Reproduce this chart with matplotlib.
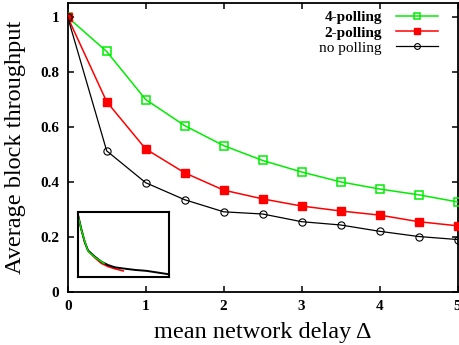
import matplotlib
matplotlib.use('Agg')
import matplotlib.pyplot as plt

# main curves
delay = [0, 0.5, 1, 1.5, 2, 2.5, 3, 3.5, 4, 4.5, 5]
poll4 = [1.0, 0.875, 0.70, 0.605, 0.532, 0.478, 0.436, 0.400, 0.374, 0.353, 0.327]
poll2 = [1.0, 0.692, 0.520, 0.433, 0.370, 0.338, 0.312, 0.294, 0.279, 0.255, 0.240]
nopoll = [1.0, 0.513, 0.397, 0.335, 0.291, 0.283, 0.255, 0.243, 0.220, 0.201, 0.190]

# inset curves (inset has no tick labels, unit coordinates)
ins_x_black = [0.0, 0.04, 0.077, 0.113, 0.187, 0.26, 0.333, 0.407, 0.48, 0.626, 0.755, 1.0]
ins_y_black = [1.0, 0.756, 0.557, 0.424, 0.328, 0.247, 0.195, 0.160, 0.145, 0.119, 0.104, 0.05]
ins_x_red = [0.0, 0.04, 0.077, 0.113, 0.187, 0.26, 0.333, 0.407, 0.498]
ins_y_red = [1.0, 0.75, 0.555, 0.42, 0.31, 0.221, 0.171, 0.137, 0.104]
ins_x_green = [0.0, 0.04, 0.08, 0.115, 0.19, 0.29]
ins_y_green = [1.0, 0.75, 0.55, 0.41, 0.315, 0.22]

plt.rcParams['font.family'] = ['Liberation Serif', 'DejaVu Serif']

fig = plt.figure(figsize=(4.59, 3.45), dpi=100)
ax = fig.add_axes([0.1475, 0.1545, 0.8495, 0.8355])

ax.plot(delay, poll4, color='#00ee00', lw=1.1, marker='s', ms=5.2,
        mfc='none', mec='#00ee00', mew=1.1, label='4-polling', zorder=3)
ax.plot(delay, poll2, color='#ff0000', lw=1.1, marker='s', ms=5.2,
        mfc='#ff0000', mec='#ff0000', label='2-polling', zorder=3)
ax.plot(delay, nopoll, color='black', lw=0.9, marker='o', ms=5.2,
        mfc='none', mec='black', mew=0.8, label='no polling', zorder=3)

ax.set_xlim(0, 5)
ax.set_ylim(0, 1.05)
ax.set_xticks([0, 1, 2, 3, 4, 5])
ax.set_yticks([0, 0.2, 0.4, 0.6, 0.8, 1])
ax.set_yticklabels(['0', '0.2', '0.4', '0.6', '0.8', '1'])
ax.tick_params(direction='in', top=True, right=True, length=4, width=1.1,
               labelsize=11, pad=6)
for lab in ax.get_xticklabels() + ax.get_yticklabels():
    lab.set_fontweight('bold')
for sp in ax.spines.values():
    sp.set_linewidth(1.3)

ax.set_xlabel('mean network delay Δ', fontsize=17.5)
ax.set_ylabel('Average block throughput', fontsize=17.5)
ax.xaxis.set_label_coords(0.5, -0.105)
ax.yaxis.set_label_coords(-0.106, 0.5)

leg = ax.legend(loc='upper right', bbox_to_anchor=(0.978, 1.012), frameon=False,
                markerfirst=False, fontsize=11, handlelength=2.8, markerscale=0.8,
                handletextpad=0.9, labelspacing=0.1, borderaxespad=0.3)
leg.get_texts()[0].set_fontweight('bold')
leg.get_texts()[1].set_fontweight('bold')
for t in leg.get_texts():
    t.set_ha('right')

# inset
ins = fig.add_axes([0.1693, 0.1957, 0.199, 0.19])
ins.plot(ins_x_red, ins_y_red, color='#ff0000', lw=1.2)
ins.plot(ins_x_black, ins_y_black, color='black', lw=1.4)
ins.plot(ins_x_green, ins_y_green, color='#00dd00', lw=1.1)
ins.set_xlim(0, 1)
ins.set_ylim(0, 1.03)
ins.set_xticks([])
ins.set_yticks([])
for sp in ins.spines.values():
    sp.set_linewidth(1.5)

fig.savefig('out.png', dpi=100)
